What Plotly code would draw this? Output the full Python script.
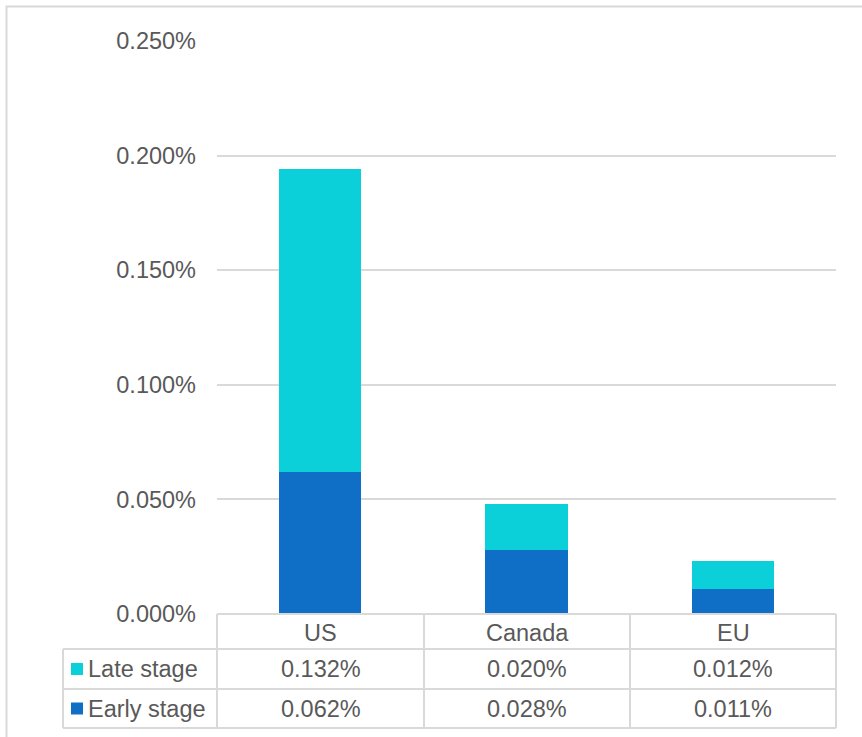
import plotly.graph_objects as go

categories = ["US", "Canada", "EU"]
series_names = ["Late stage", "Early stage"]
early_stage = [0.062, 0.028, 0.011]   # percent
late_stage = [0.132, 0.020, 0.012]    # percent
y_ticks = [0.0, 0.05, 0.10, 0.15, 0.20, 0.25]  # percent

W, H = 862, 737
C_LATE = "#0BD0D9"
C_EARLY = "#0F6FC6"
GRID = "#D9D9D9"
TXT = "#595959"
FONT = "Liberation Sans, Arial, sans-serif"
FS = 23.5

# pixel layout
PX_L, PX_R = 217, 836
PY_TOP, PY_BOT = 41, 614
TBL_L = 63
ROW_Y = [614, 649, 689, 728]
COL_X = [217, 424, 630, 836]


def px(x):
    return x / W


def py(y):
    return 1 - y / H


fig = go.Figure()
fig.add_trace(go.Bar(x=categories, y=[v / 100 for v in early_stage], name=series_names[1],
                     marker=dict(color=C_EARLY, line=dict(width=0)), width=0.4))
fig.add_trace(go.Bar(x=categories, y=[v / 100 for v in late_stage], name=series_names[0],
                     marker=dict(color=C_LATE, line=dict(width=0)), width=0.4))

shapes = []
# outer chart border
shapes.append(dict(type="rect", xref="paper", yref="paper", x0=px(6.5), x1=px(W + 5),
                   y0=py(H + 5), y1=py(6.5), line=dict(color=GRID, width=2)))
# table horizontal lines
for i, y in enumerate(ROW_Y):
    x0 = PX_L if i == 0 else TBL_L
    shapes.append(dict(type="line", xref="paper", yref="paper", x0=px(x0), x1=px(PX_R),
                       y0=py(y), y1=py(y), line=dict(color=GRID, width=2)))
# table vertical lines
for x in COL_X:
    shapes.append(dict(type="line", xref="paper", yref="paper", x0=px(x), x1=px(x),
                       y0=py(ROW_Y[0]), y1=py(ROW_Y[3]), line=dict(color=GRID, width=2)))
shapes.append(dict(type="line", xref="paper", yref="paper", x0=px(TBL_L), x1=px(TBL_L),
                   y0=py(ROW_Y[1]), y1=py(ROW_Y[3]), line=dict(color=GRID, width=2)))

annotations = []
# category header
for i, c in enumerate(categories):
    annotations.append(dict(xref="paper", yref="paper", x=px((COL_X[i] + COL_X[i + 1]) / 2),
                            y=py((ROW_Y[0] + ROW_Y[1]) / 2 + 1), text=c, showarrow=False,
                            font=dict(family=FONT, size=FS, color=TXT), xanchor="center", yanchor="middle"))
rows = [(series_names[0], late_stage, C_LATE), (series_names[1], early_stage, C_EARLY)]
for r, (name, vals, col) in enumerate(rows):
    yc = (ROW_Y[r + 1] + ROW_Y[r + 2]) / 2
    shapes.append(dict(type="rect", xref="paper", yref="paper", x0=px(71), x1=px(83),
                       y0=py(yc + 6), y1=py(yc - 6), fillcolor=col, line=dict(width=0)))
    annotations.append(dict(xref="paper", yref="paper", x=px(86), y=py(yc), text=name,
                            showarrow=False, font=dict(family=FONT, size=FS, color=TXT),
                            xanchor="left", yanchor="middle"))
    for i, v in enumerate(vals):
        annotations.append(dict(xref="paper", yref="paper", x=px((COL_X[i] + COL_X[i + 1]) / 2),
                                y=py(yc), text=f"{v:.3f}%", showarrow=False,
                                font=dict(family=FONT, size=FS, color=TXT),
                                xanchor="center", yanchor="middle"))

fig.update_layout(
    width=W, height=H, barmode="stack", showlegend=False,
    paper_bgcolor="white", plot_bgcolor="white",
    margin=dict(l=0, r=0, t=0, b=0, autoexpand=False),
    font=dict(family=FONT, size=FS, color=TXT),
    xaxis=dict(domain=[px(PX_L), px(PX_R)], range=[-0.5, 2.5], showticklabels=False,
               showgrid=False, zeroline=False, showline=False, fixedrange=True,
               automargin=False),
    yaxis=dict(domain=[py(PY_BOT), py(PY_TOP)], range=[0, 0.0025],
               tickvals=[t / 100 for t in y_ticks], tickformat=".3%",
               showgrid=True, gridcolor=GRID, gridwidth=2, zeroline=False, showline=False,
               ticklabelstandoff=20, automargin=False,
               tickfont=dict(family=FONT, size=FS, color=TXT)),
    shapes=shapes, annotations=annotations,
)

fig.write_html("out.html", config={"displayModeBar": False},
               post_script="document.body.style.margin='0px';document.body.style.overflow='hidden';")
